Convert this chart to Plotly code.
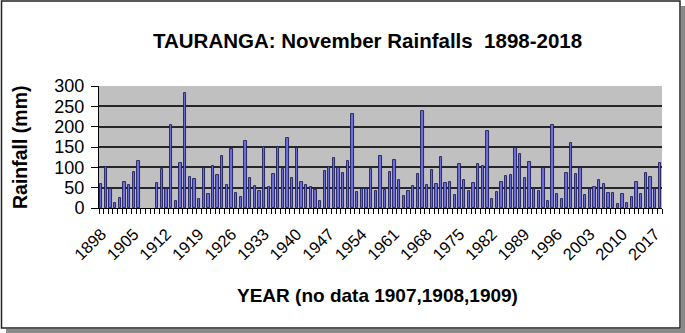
import plotly.graph_objects as go

years = list(range(1898, 2019))
rainfall = [
    58, 100, 47, 12, 25, 64, 56, 88, 116, None, None, None,      # 1898-1909
    62, 96, 47, 203, 16, 110, 284, 77, 71, 22,                    # 1910-1919
    98, 34, 103, 80, 127, 56, 145, 36, 26, 165,                   # 1920-1929
    73, 53, 42, 151, 51, 83, 151, 96, 173, 75,                    # 1930-1939
    148, 63, 57, 51, 44, 18, 90, 101, 123, 98,                    # 1940-1949
    87, 116, 231, 39, 47, 47, 96, 42, 127, 44,                    # 1950-1959
    88, 119, 70, 29, 41, 54, 83, 239, 57, 94,                     # 1960-1969
    60, 126, 61, 65, 33, 107, 69, 42, 61, 109,                    # 1970-1979
    103, 189, 22, 39, 65, 78, 81, 148, 134, 75,                   # 1980-1989
    114, 47, 43, 98, 18, 203, 35, 22, 85, 159,                    # 1990-1999
    83, 98, 32, 47, 51, 68, 58, 38, 38, 10,                       # 2000-2009
    34, 12, 26, 64, 34, 85, 76, 47, 111,                          # 2010-2018
]
assert len(years) == len(rainfall)

title_text = "TAURANGA: November Rainfalls  1898-2018"
y_title = "Rainfall (mm)"
x_title = "YEAR (no data 1907,1908,1909)"

W, H = 685, 333
L, R, T, B = 99, 662, 86, 208
pw, ph = R - L, B - T

def px(x):
    return (x - L) / pw

def py(y):
    return (B - y) / ph

FONT = "Liberation Sans, Arial, sans-serif"

fig = go.Figure()
fig.add_trace(go.Bar(
    x=years, y=rainfall, width=0.5,
    marker=dict(color="#6e6ee0", line=dict(color="#1e1e58", width=0.9)),
))

fig.update_layout(
    width=W, height=H,
    margin=dict(l=L, r=W - R, t=T, b=H - B, pad=0),
    paper_bgcolor="white",
    plot_bgcolor="#c0c0c0",
    showlegend=False,
    font=dict(family=FONT, color="black"),
    bargap=0,
)

fig.update_xaxes(
    range=[1897.5, 2018.5],
    tickmode="linear", tick0=1898, dtick=7,
    ticks="", tickangle=-45,
    tickfont=dict(size=16.5, family=FONT),
    ticklabelstandoff=9,
    showgrid=False, zeroline=False,
    showline=True, linecolor="black", linewidth=1,
    minor=dict(tickmode="linear", tick0=1897.5, dtick=1, ticks="outside",
               ticklen=5, tickcolor="black", tickwidth=1, showgrid=False),
)
fig.update_yaxes(
    range=[0, 300], tickmode="linear", tick0=0, dtick=50,
    ticks="outside", ticklen=7, tickcolor="black",
    tickfont=dict(size=18, family=FONT),
    ticklabelstandoff=3,
    showgrid=True, gridcolor="#262626", gridwidth=1.6,
    zeroline=False,
    showline=True, linecolor="black", linewidth=1,
)

annotations = [
    dict(text="<b>%s</b>" % title_text, x=px(367), y=py(40), xref="paper", yref="paper",
         showarrow=False, xanchor="center", yanchor="middle",
         font=dict(size=20.5, family=FONT)),
    dict(text="<b>%s</b>" % y_title, x=px(20), y=0.5, xref="paper", yref="paper",
         showarrow=False, xanchor="center", yanchor="middle", textangle=-90,
         font=dict(size=19.5, family=FONT)),
    dict(text="<b>%s</b>" % x_title, x=px(377), y=py(295), xref="paper", yref="paper",
         showarrow=False, xanchor="center", yanchor="middle",
         font=dict(size=19, family=FONT)),
]
fig.update_layout(annotations=annotations)

shapes = [
    # shadow
    dict(type="rect", xref="paper", yref="paper", x0=px(681), x1=px(685), y0=py(333), y1=py(6),
         fillcolor="#8a8a8a", line=dict(width=0)),
    dict(type="rect", xref="paper", yref="paper", x0=px(6), x1=px(685), y0=py(333), y1=py(329),
         fillcolor="#8a8a8a", line=dict(width=0)),
    # frame
    dict(type="rect", xref="paper", yref="paper", x0=px(1.5), x1=px(680), y0=py(328), y1=py(1),
         fillcolor="rgba(0,0,0,0)", line=dict(color="#222222", width=1.5)),
]
fig.update_layout(shapes=shapes)

fig.write_html("out.html")
